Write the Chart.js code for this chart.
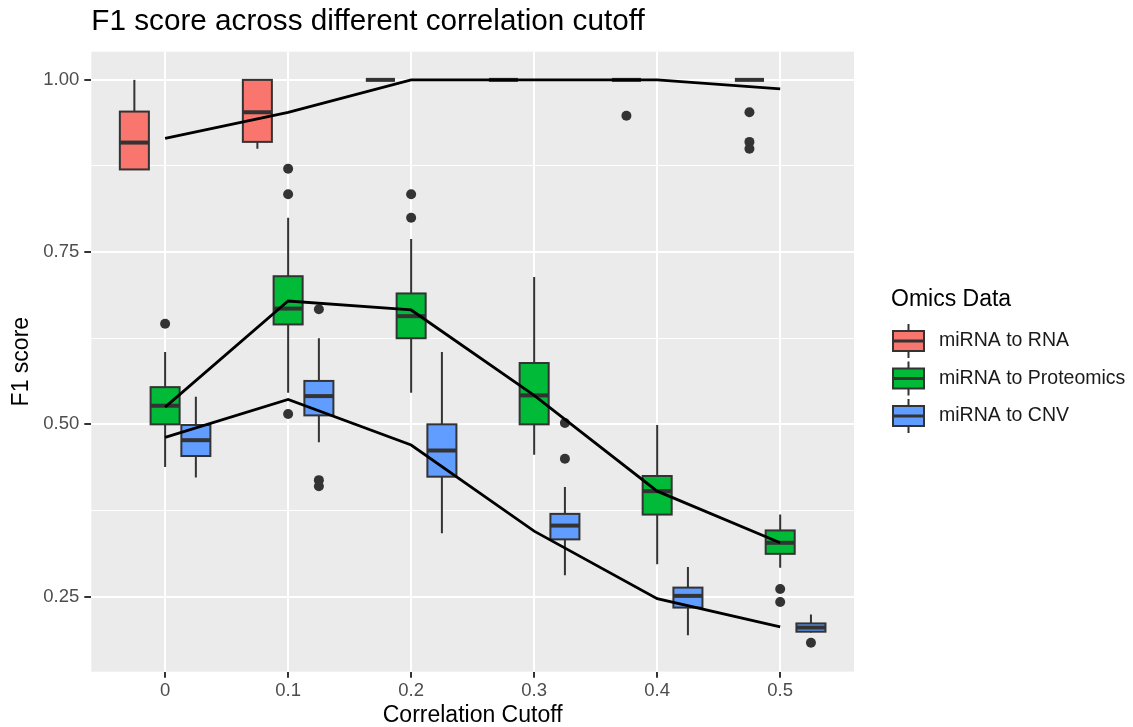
<!DOCTYPE html>
<html>
<head>
<meta charset="utf-8">
<script src="https://cdn.jsdelivr.net/npm/chart.js@4.4.1/dist/chart.umd.min.js"></script>
<style>
  html, body { margin: 0; padding: 0; background: #ffffff; }
  #wrap { width: 1133px; height: 727px; }
</style>
</head>
<body>
<div id="wrap"><canvas id="f1Chart" width="1133" height="727"></canvas></div>
<script>
// -----------------------------
// Data
// -----------------------------
const cutoffs = ['0', '0.1', '0.2', '0.3', '0.4', '0.5'];
const seriesNames = ['miRNA to RNA', 'miRNA to Proteomics', 'miRNA to CNV'];
const yTickValues = [0.25, 0.375, 0.5, 0.625, 0.75, 0.875, 1.0];

// miRNA to RNA
const rnaLow    = [0.870, 0.900, 1.000, 1.000, 1.000, 1.000];
const rnaQ1     = [0.870, 0.910, 1.000, 1.000, 1.000, 1.000];
const rnaMedian = [0.909, 0.953, 1.000, 1.000, 1.000, 1.000];
const rnaQ3     = [0.954, 1.000, 1.000, 1.000, 1.000, 1.000];
const rnaHigh   = [1.000, 1.000, 1.000, 1.000, 1.000, 1.000];
const rnaOutliers = [[], [], [], [], [0.948], [0.953, 0.910, 0.900]];
const rnaMean   = [0.915, 0.953, 1.000, 1.000, 1.000, 0.987];

// miRNA to Proteomics
const protLow    = [0.438, 0.546, 0.546, 0.456, 0.297, 0.292];
const protQ1     = [0.500, 0.645, 0.625, 0.500, 0.369, 0.312];
const protMedian = [0.527, 0.668, 0.657, 0.542, 0.403, 0.328];
const protQ3     = [0.554, 0.715, 0.690, 0.589, 0.425, 0.346];
const protHigh   = [0.605, 0.800, 0.769, 0.714, 0.499, 0.369];
const protOutliers = [[0.646], [0.871, 0.834, 0.515], [0.834, 0.800], [], [], [0.261, 0.242]];
const protMean   = [0.525, 0.679, 0.666, 0.542, 0.403, 0.328];

// miRNA to CNV
const cnvLow    = [0.423, 0.474, 0.342, 0.281, 0.194, 0.198];
const cnvQ1     = [0.454, 0.513, 0.424, 0.333, 0.234, 0.199];
const cnvMedian = [0.477, 0.541, 0.462, 0.353, 0.251, 0.205];
const cnvQ3     = [0.499, 0.563, 0.500, 0.370, 0.263, 0.211];
const cnvHigh   = [0.540, 0.625, 0.605, 0.409, 0.293, 0.224];
const cnvOutliers = [[], [0.667, 0.419, 0.410], [], [0.502, 0.450], [], [0.183]];
const cnvMean   = [0.481, 0.536, 0.470, 0.345, 0.247, 0.206];

// -----------------------------
// Styling
// -----------------------------
const fillColors = ['#F8766D', '#00BA38', '#619CFF'];
const dodge = [-0.25, 0, 0.25];
const boxWidth = 0.236;
const FONT = '"Liberation Sans", Arial, Helvetica, sans-serif';

const boxes = [
    { low: rnaLow, q1: rnaQ1, med: rnaMedian, q3: rnaQ3, high: rnaHigh },
    { low: protLow, q1: protQ1, med: protMedian, q3: protQ3, high: protHigh },
    { low: cnvLow, q1: cnvQ1, med: cnvMedian, q3: cnvQ3, high: cnvHigh }
];
const outliers = [rnaOutliers, protOutliers, cnvOutliers];
const means = [rnaMean, protMean, cnvMean];

// -----------------------------
// Datasets
// -----------------------------
const datasets = [];

means.forEach((m, s) => {
    datasets.push({
        type: 'line',
        label: seriesNames[s] + ' mean',
        data: m.map((v, i) => ({ x: i, y: v })),
        borderColor: '#000000',
        borderWidth: 2.8,
        pointRadius: 0,
        tension: 0,
        fill: false
    });
});

outliers.forEach((list, s) => {
    const pts = [];
    list.forEach((vals, i) => vals.forEach(v => pts.push({ x: i + dodge[s], y: v })));
    datasets.push({
        type: 'scatter',
        label: seriesNames[s] + ' outliers',
        data: pts,
        backgroundColor: '#333333',
        borderWidth: 0,
        pointRadius: 5
    });
});

// -----------------------------
// Plugins
// -----------------------------
const panelBg = {
    id: 'panelBg',
    beforeDraw(chart) {
        const { ctx, chartArea: a } = chart;
        ctx.save();
        ctx.fillStyle = '#EBEBEB';
        ctx.fillRect(a.left, a.top, a.right - a.left, a.bottom - a.top);
        ctx.restore();
    }
};

const boxPlots = {
    id: 'boxPlots',
    beforeDatasetsDraw(chart) {
        const { ctx } = chart;
        const xs = chart.scales.x, ys = chart.scales.y;
        const half = Math.abs(xs.getPixelForValue(boxWidth / 2) - xs.getPixelForValue(0));
        ctx.save();
        boxes.forEach((b, s) => {
            cutoffs.forEach((c, i) => {
                const xc = xs.getPixelForValue(i + dodge[s]);
                const yLow = ys.getPixelForValue(b.low[i]);
                const yQ1 = ys.getPixelForValue(b.q1[i]);
                const yMed = ys.getPixelForValue(b.med[i]);
                const yQ3 = ys.getPixelForValue(b.q3[i]);
                const yHigh = ys.getPixelForValue(b.high[i]);

                ctx.strokeStyle = '#333333';
                ctx.lineWidth = 2;
                ctx.beginPath();
                ctx.moveTo(xc, yLow); ctx.lineTo(xc, yQ1);
                ctx.moveTo(xc, yQ3); ctx.lineTo(xc, yHigh);
                ctx.stroke();

                ctx.fillStyle = fillColors[s];
                ctx.fillRect(xc - half, yQ3, half * 2, yQ1 - yQ3);
                ctx.strokeRect(xc - half, yQ3, half * 2, yQ1 - yQ3);

                ctx.lineWidth = 4;
                ctx.beginPath();
                ctx.moveTo(xc - half, yMed); ctx.lineTo(xc + half, yMed);
                ctx.stroke();
            });
        });
        ctx.restore();
    }
};

const omicsLegend = {
    id: 'omicsLegend',
    afterDraw(chart) {
        const { ctx } = chart;
        ctx.save();
        ctx.fillStyle = '#000000';
        ctx.textBaseline = 'middle';
        ctx.textAlign = 'left';
        ctx.font = '23px ' + FONT;
        ctx.fillText('Omics Data', 891, 300);

        const rows = [341, 378.5, 416];
        seriesNames.forEach((name, s) => {
            const cy = rows[s], cx = 908.5;
            ctx.strokeStyle = '#333333';
            ctx.lineWidth = 2;
            ctx.beginPath();
            ctx.moveTo(cx, cy - 17); ctx.lineTo(cx, cy - 10);
            ctx.moveTo(cx, cy + 10); ctx.lineTo(cx, cy + 17);
            ctx.stroke();
            ctx.fillStyle = fillColors[s];
            ctx.fillRect(893, cy - 10, 31, 20);
            ctx.strokeRect(893, cy - 10, 31, 20);
            ctx.lineWidth = 3;
            ctx.beginPath();
            ctx.moveTo(893, cy); ctx.lineTo(924, cy);
            ctx.stroke();

            ctx.fillStyle = '#1A1A1A';
            ctx.font = '19.5px ' + FONT;
            ctx.fillText(name, 939, cy);
        });
        ctx.restore();
    }
};

// -----------------------------
// Chart
// -----------------------------
new Chart(document.getElementById('f1Chart').getContext('2d'), {
    data: { datasets },
    plugins: [panelBg, boxPlots, omicsLegend],
    options: {
        responsive: false,
        animation: false,
        layout: { padding: { left: 9, right: 279, top: 0, bottom: 0 } },
        plugins: {
            legend: { display: false },
            tooltip: { enabled: false },
            title: {
                display: true,
                text: 'F1 score across different correlation cutoff',
                align: 'start',
                fullSize: false,
                color: '#000000',
                font: { family: FONT, size: 29.7, weight: 'normal', lineHeight: 1.2 },
                padding: { top: 4, bottom: 12 }
            }
        },
        scales: {
            x: {
                type: 'linear',
                min: -0.6,
                max: 5.6,
                afterBuildTicks: axis => { axis.ticks = cutoffs.map((c, i) => ({ value: i })); },
                ticks: {
                    callback: v => cutoffs[v],
                    color: '#4D4D4D',
                    font: { family: FONT, size: 18.5, lineHeight: 1.1 },
                    padding: 3,
                    maxRotation: 0
                },
                grid: {
                    color: '#FFFFFF',
                    lineWidth: 2,
                    tickColor: '#333333',
                    tickLength: 6,
                    tickWidth: 2
                },
                border: { display: false },
                title: {
                    display: true,
                    text: 'Correlation Cutoff',
                    color: '#000000',
                    font: { family: FONT, size: 23, lineHeight: 1.0 },
                    padding: { top: 0, bottom: 0 }
                }
            },
            y: {
                type: 'linear',
                min: 0.141,
                max: 1.041,
                afterBuildTicks: axis => { axis.ticks = yTickValues.map(v => ({ value: v })); },
                ticks: {
                    callback: v => (Math.round(v * 1000) % 250 === 0 ? v.toFixed(2) : ''),
                    color: '#4D4D4D',
                    font: { family: FONT, size: 18.5 },
                    padding: 5
                },
                grid: {
                    color: '#FFFFFF',
                    lineWidth: c => (Math.round(c.tick.value * 1000) % 250 === 0 ? 2 : 1),
                    tickColor: c => (Math.round(c.tick.value * 1000) % 250 === 0 ? '#333333' : 'rgba(0,0,0,0)'),
                    tickLength: 7,
                    tickWidth: 2
                },
                border: { display: false },
                title: {
                    display: true,
                    text: 'F1 score',
                    color: '#000000',
                    font: { family: FONT, size: 23, lineHeight: 1.1 },
                    padding: { top: 0, bottom: 4 }
                }
            }
        }
    }
});
</script>
</body>
</html>
